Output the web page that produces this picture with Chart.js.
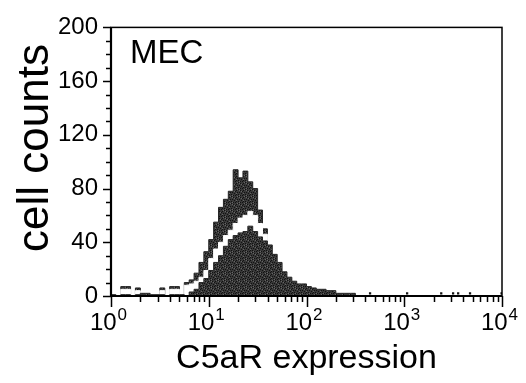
<!DOCTYPE html>
<html><head><meta charset="utf-8">
<script src="https://cdn.jsdelivr.net/npm/chart.js@4"></script>
<style>html,body{margin:0;padding:0;background:#fff}</style>
</head><body>
<canvas id="c" width="526" height="383"></canvas>
<script>
// Histogram bin left edges (fluorescence channel, log scale)
const binEdges = [1,1.122,1.259,1.413,1.585,1.778,1.995,2.239,2.512,2.818,
  3.162,3.548,3.981,4.467,5.012,5.623,6.310,7.079,7.943,8.913,
  10.00,11.22,12.59,14.13,15.85,17.78,19.95,22.39,25.12,28.18,
  31.62,35.48,39.81,44.67,50.12,56.23,63.10,70.79,79.43,89.13,
  100.0,112.2,125.9,141.3,158.5,177.8,199.5,223.9,251.2,281.8,
  316.2,354.8,398.1];
// Taller (outer) histogram
const outerCounts = [0,0,0,7,7,0,6,0,0,0,
  0,6,0,7,7,0,10,12,17,25,
  33,42,55,66,72,78,94,88,93,85,
  80,64,50,0,0,0,0,0,0,0,
  0,0,0,0,0,0,0,0,0,0,
  0,0,0];
// White separation outline between the two histograms
const gapCounts = [0,0,0,5,5,0,4,0,0,0,
  0,4,0,5,5,0,8,9,11,14,
  19,28,35,40,45,49,54,58,60,63,
  60,54,46,0,0,0,0,0,0,0,
  0,0,0,0,0,0,0,0,0,0,
  0,0,0];
// Inner filled histogram
const innerCounts = [1,1,0,1,1,0,1,2,2,1,
  1,1,0,1,1,1,0,3,5,10,
  13,19,25,30,37,42,45,47,48,52,
  48,44,41,38,31,25,18,14,11,9,
  9,7,6,5,5,4,4,2,2,2,
  2,0,0];
// Isolated high-channel events
const sparseX = [447,1070,2390,3160,3560,4710,9900];
const sparseY = [2,2,2,2,2,2,2];
const yTickValues = [0,40,80,120,160,200];
const xDecades = [0,1,2,3,4];
const panelLabel = 'MEC';
const xTitle = 'C5aR expression';
const yTitle = 'cell counts';

const FONT = "'Liberation Sans', Arial, Helvetica, sans-serif";

// grainy dark fill like the printed histogram
function grain() {
  const c = document.createElement('canvas');
  c.width = 7; c.height = 7;
  const g = c.getContext('2d');
  g.fillStyle = '#383838'; g.fillRect(0, 0, 7, 7);
  const darkPx = [[0,0],[2,1],[5,1],[4,2],[1,3],[6,3],[3,4],[0,5],[5,5],[2,6],[4,6]];
  const lightPx = [[1,1],[6,0],[3,2],[5,4],[1,6]];
  g.fillStyle = '#111111'; darkPx.forEach(p => g.fillRect(p[0], p[1], 1, 1));
  g.fillStyle = '#666666'; lightPx.forEach(p => g.fillRect(p[0], p[1], 1, 1));
  return g.createPattern(c, 'repeat');
}
const DARK = grain();
const pts = arr => binEdges.map((x, i) => ({x, y: arr[i]}));

const decor = {
  id: 'decor',
  afterDraw(chart) {
    const {ctx, chartArea: a, scales: {x, y}} = chart;
    ctx.save();
    ctx.strokeStyle = '#000';
    ctx.lineWidth = 1.5;
    ctx.strokeRect(a.left, a.top, a.right - a.left, a.bottom - a.top);
    ctx.lineWidth = 2.2;
    ctx.beginPath();
    ctx.moveTo(a.left, a.top); ctx.lineTo(a.left, a.bottom); ctx.lineTo(a.right, a.bottom);
    ctx.stroke();
    ctx.lineWidth = 1.5;
    ctx.beginPath();
    for (let v = 0; v <= 200; v += 10) {
      const py = Math.round(y.getPixelForValue(v)) + 0.5;
      const len = (v % 40 === 0) ? 8 : 5;
      ctx.moveTo(a.left - len, py); ctx.lineTo(a.left, py);
    }
    for (let e = 0; e <= 4; e++) {
      for (let m = 1; m <= 9; m++) {
        if (e === 4 && m > 1) break;
        const px = Math.round(x.getPixelForValue(m * Math.pow(10, e))) + 0.5;
        const len = m === 1 ? 11 : 6;
        ctx.moveTo(px, a.bottom); ctx.lineTo(px, a.bottom + len);
      }
    }
    ctx.stroke();
    // decade labels with superscripts
    ctx.fillStyle = '#000';
    ctx.textBaseline = 'alphabetic';
    ctx.textAlign = 'left';
    xDecades.forEach(e => {
      const px = x.getPixelForValue(Math.pow(10, e));
      ctx.font = '24px ' + FONT;
      const w1 = ctx.measureText('10').width;
      ctx.font = '17px ' + FONT;
      const w2 = ctx.measureText(String(e)).width;
      const x0 = px - (w1 + w2) / 2 - 3;
      ctx.font = '24px ' + FONT;
      ctx.fillText('10', x0, a.bottom + 34);
      ctx.font = '17px ' + FONT;
      ctx.fillText(String(e), x0 + w1 + 1, a.bottom + 24);
    });
    ctx.font = '33px ' + FONT;
    ctx.fillText(panelLabel, 130, 63);
    // y axis title
    ctx.save();
    ctx.translate(48, 148);
    ctx.rotate(-Math.PI / 2);
    ctx.textAlign = 'center';
    ctx.font = '44px ' + FONT;
    ctx.fillText(yTitle, 0, 0);
    ctx.restore();
    ctx.restore();
  }
};

new Chart(document.getElementById('c'), {
  type: 'line',
  data: {
    datasets: [
      {label: 'inner', data: pts(innerCounts), stepped: 'after', fill: 'origin',
       backgroundColor: DARK, borderColor: '#262626', borderWidth: 1, pointRadius: 0, order: 1},
      {label: 'gap', data: pts(gapCounts), stepped: 'after', fill: 'origin',
       backgroundColor: '#ffffff', borderColor: '#ffffff', borderWidth: 1, pointRadius: 0, order: 2},
      {label: 'outer', data: pts(outerCounts), stepped: 'after', fill: 'origin',
       backgroundColor: DARK, borderColor: '#262626', borderWidth: 1, pointRadius: 0, order: 3},
      {label: 'events', data: sparseX.map((x, i) => ({x, y: sparseY[i]})), showLine: false,
       pointStyle: 'rect', pointRadius: 1.6, backgroundColor: '#111', borderWidth: 0, order: 0}
    ]
  },
  options: {
    responsive: false,
    animation: false,
    devicePixelRatio: 1,
    layout: {padding: {left: 0, right: 24, top: 16, bottom: 0}},
    plugins: {legend: {display: false}, tooltip: {enabled: false}},
    scales: {
      x: {
        type: 'logarithmic', min: 1, max: 10000,
        grid: {display: false, drawTicks: false}, border: {display: false},
        ticks: {display: false},
        title: {display: true, text: xTitle, color: '#000', font: {family: FONT, size: 34}, padding: {top: 0, bottom: 4}},
        afterFit: s => { s.height = 87; }
      },
      y: {
        min: 0, max: 200,
        afterBuildTicks: s => { s.ticks = yTickValues.map(v => ({value: v})); },
        grid: {display: false, drawTicks: false}, border: {display: false},
        ticks: {color: '#000', font: {family: FONT, size: 24}, padding: 13},
        title: {display: false, text: yTitle},
        afterFit: s => { s.width = 111; }
      }
    }
  },
  plugins: [decor]
});
</script>
</body></html>
